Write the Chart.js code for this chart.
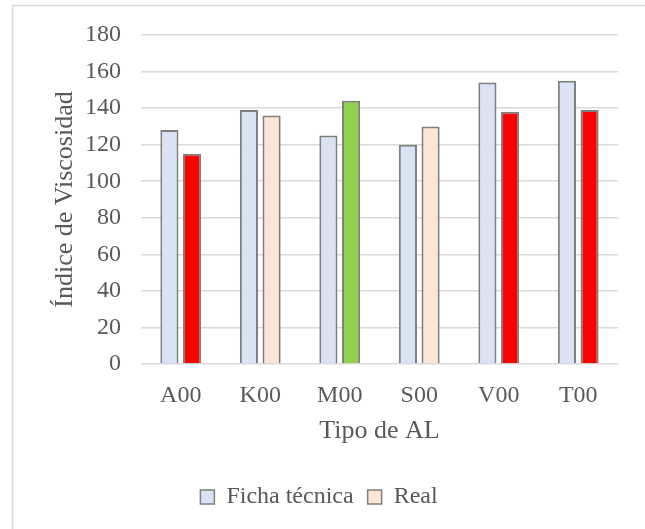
<!DOCTYPE html>
<html>
<head>
<meta charset="utf-8">
<script src="https://cdn.jsdelivr.net/npm/chart.js@4"></script>
<style>
  html, body { margin: 0; padding: 0; background: #ffffff; }
  #wrap { position: relative; width: 645px; height: 529px; }
</style>
</head>
<body>
<div id="wrap"><canvas id="chart" width="645" height="529"></canvas></div>
<script>
// Viscosity index per lubricant type: datasheet vs. measured
const categories = ['A00', 'K00', 'M00', 'S00', 'V00', 'T00'];
const fichaTecnica = [128, 139, 125, 120, 154, 155];
const real = [115, 136, 144, 130, 138, 139];
const yTicks = [0, 20, 40, 60, 80, 100, 120, 140, 160, 180];

const fichaColor = '#dae3f3';
const realColors = ['#ff0000', '#fbe5d6', '#92d050', '#fbe5d6', '#ff0000', '#ff0000'];
const realLegendColor = '#fbe5d6';
const edgeColor = '#7f7f7f';
const textColor = '#595959';
const FONT = "'Liberation Serif', 'Times New Roman', serif";

// light frame around the whole chart
const framePlugin = {
  id: 'frame',
  beforeDraw(chart) {
    const ctx = chart.ctx;
    ctx.save();
    ctx.fillStyle = '#ffffff';
    ctx.fillRect(0, 0, chart.width, chart.height);
    ctx.strokeStyle = '#d9d9d9';
    ctx.lineWidth = 1.5;
    ctx.strokeRect(12.5, 5.5, chart.width + 20, chart.height + 20);
    ctx.restore();
  }
};

new Chart(document.getElementById('chart'), {
  type: 'bar',
  data: {
    labels: categories,
    datasets: [
      {
        label: 'Ficha técnica',
        data: fichaTecnica,
        backgroundColor: fichaColor,
        borderColor: edgeColor,
        borderWidth: 2,
        categoryPercentage: 0.57,
        barPercentage: 0.8
      },
      {
        label: 'Real',
        data: real,
        backgroundColor: realColors,
        borderColor: edgeColor,
        borderWidth: 2,
        categoryPercentage: 0.57,
        barPercentage: 0.8
      }
    ]
  },
  options: {
    responsive: false,
    animation: false,
    devicePixelRatio: 1,
    layout: { padding: { left: 20, right: 27, top: 35, bottom: 10 } },
    plugins: {
      tooltip: { enabled: false },
      legend: {
        position: 'bottom',
        labels: {
          color: textColor,
          font: { family: FONT, size: 24 },
          boxWidth: 14,
          boxHeight: 14,
          padding: 14,
          generateLabels(chart) {
            return chart.data.datasets.map((ds, i) => ({
              text: ds.label,
              fillStyle: i === 0 ? fichaColor : realLegendColor,
              strokeStyle: edgeColor,
              lineWidth: 1.5,
              fontColor: textColor,
              hidden: false,
              datasetIndex: i
            }));
          }
        }
      }
    },
    scales: {
      x: {
        grid: { display: false, drawTicks: false },
        border: { display: false },
        ticks: {
          color: textColor,
          font: { family: FONT, size: 24 },
          padding: 17
        },
        title: {
          display: true,
          text: 'Tipo de AL',
          color: textColor,
          font: { family: FONT, size: 26 },
          padding: { top: 0, bottom: 24 }
        },
        afterFit(scale) { scale.height = 107; }
      },
      y: {
        min: 0,
        max: 180,
        grid: { color: '#d9d9d9', lineWidth: 1.5, drawTicks: false },
        border: { display: false },
        afterBuildTicks(scale) { scale.ticks = yTicks.map(v => ({ value: v })); },
        ticks: {
          color: textColor,
          font: { family: FONT, size: 24 },
          padding: 20
        },
        title: {
          display: true,
          text: 'Índice de Viscosidad',
          color: textColor,
          font: { family: FONT, size: 26 },
          padding: { top: 30, bottom: 0 }
        },
        afterFit(scale) { scale.width = 121; }
      }
    }
  },
  plugins: [framePlugin]
});
</script>
</body>
</html>
